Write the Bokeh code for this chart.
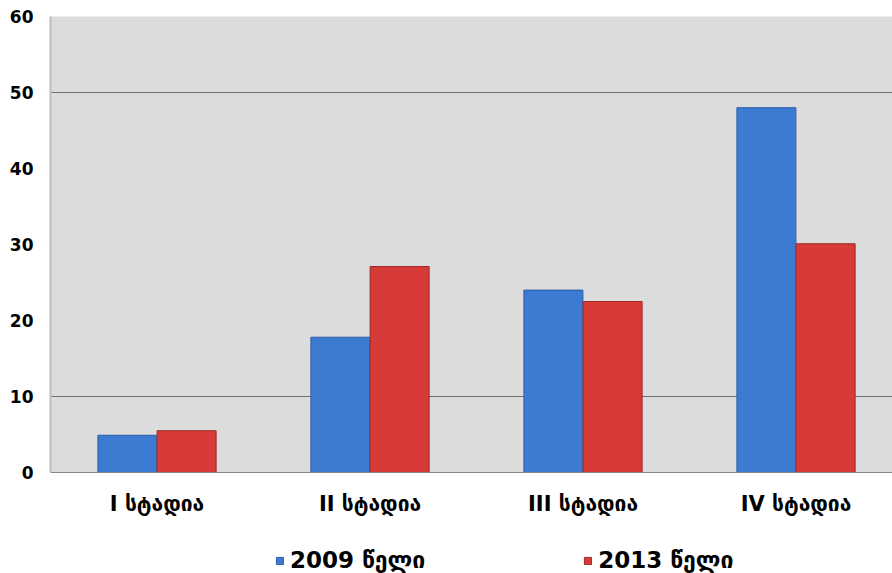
from bokeh.plotting import figure
from bokeh.layouts import column
from bokeh.models import Range1d, FixedTicker, Legend, LegendItem, ColumnDataSource
from bokeh.embed import file_html
from bokeh.resources import INLINE

categories = ["I სტადია", "II სტადია", "III სტადია", "IV სტადია"]
series_names = ["2009 წელი", "2013 წელი"]
values_2009 = [4.9, 17.8, 24.0, 48.0]
values_2013 = [5.5, 27.1, 22.5, 30.1]
y_ticks = [0, 10, 20, 30, 40, 50, 60]
grid_lines = [10, 50]
colors = ["#3d7bd3", "#d63b37"]
edge_colors = ["#2b5ea8", "#9e2a27"]

idx = [i + 0.5 for i in range(len(categories))]
src = ColumnDataSource(dict(
    x1=[v - 0.139 for v in idx], x2=[v + 0.139 for v in idx],
    v1=values_2009, v2=values_2013))

H1 = 530
p = figure(width=892, height=H1, output_backend="svg", toolbar_location=None,
           x_range=Range1d(0, 3.953), y_range=Range1d(0, 60),
           min_border_left=50, min_border_right=0, min_border_top=16,
           min_border_bottom=H1 - 472)
p.background_fill_color = "#dcdcdc"
p.border_fill_color = "white"
p.outline_line_color = None

p.vbar(x="x1", top="v1", width=0.277, source=src, fill_color=colors[0], line_color=edge_colors[0])
p.vbar(x="x2", top="v2", width=0.277, source=src, fill_color=colors[1], line_color=edge_colors[1])

p.xgrid.visible = False
p.ygrid.ticker = FixedTicker(ticks=grid_lines)
p.ygrid.grid_line_color = "#6f6f6f"
p.ygrid.grid_line_width = 1.2

p.yaxis.ticker = FixedTicker(ticks=y_ticks)
p.yaxis.axis_line_color = "#bdbdbd"
p.yaxis.axis_line_width = 2
p.yaxis.major_tick_line_color = None
p.yaxis.minor_tick_line_color = None
p.yaxis.major_tick_out = 0
p.yaxis.major_label_standoff = 17
p.yaxis.major_label_text_font = "DejaVu Sans"
p.yaxis.major_label_text_font_style = "bold"
p.yaxis.major_label_text_font_size = "17px"
p.yaxis.major_label_text_color = "black"

p.xaxis.ticker = FixedTicker(ticks=idx)
p.xaxis.major_label_overrides = {v: c for v, c in zip(idx, categories)}
p.xaxis.axis_line_color = "#8a8a8a"
p.xaxis.major_tick_line_color = None
p.xaxis.minor_tick_line_color = None
p.xaxis.major_tick_out = 0
p.xaxis.minor_tick_out = 0
p.xaxis.major_label_standoff = 19
p.xaxis.major_label_text_font = "DejaVu Sans"
p.xaxis.major_label_text_font_style = "bold"
p.xaxis.major_label_text_font_size = "21px"
p.xaxis.major_label_text_color = "black"

# legend strip below the chart (its renderers are hidden; only the legend shows)
H2 = 573 - H1
lg = figure(width=892, height=H2, output_backend="svg", toolbar_location=None,
            x_range=Range1d(0, 3.953), y_range=Range1d(0, 60),
            x_axis_location=None, y_axis_location=None,
            min_border_left=0, min_border_right=0, min_border_top=0, min_border_bottom=0)
lg.grid.visible = False
lg.outline_line_color = None
lg.background_fill_color = "white"
lr1 = lg.vbar(x="x1", top="v1", width=0.277, source=src, fill_color=colors[0], line_color=edge_colors[0])
lr2 = lg.vbar(x="x2", top="v2", width=0.277, source=src, fill_color=colors[1], line_color=edge_colors[1])
lr1.visible = False
lr2.visible = False
legend = Legend(items=[LegendItem(label=series_names[0], renderers=[lr1]),
                       LegendItem(label=series_names[1], renderers=[lr2])],
                location=(225, 0), orientation="horizontal", click_policy="none",
                border_line_color=None, background_fill_alpha=0,
                padding=0, margin=0, spacing=158,
                glyph_width=9, glyph_height=9, label_standoff=6,
                label_text_font="DejaVu Sans", label_text_font_style="bold",
                label_text_font_size="23px", label_text_color="black")
lg.add_layout(legend, "center")

layout = column(p, lg, spacing=0)
open("out.html", "w").write(file_html(layout, INLINE))
